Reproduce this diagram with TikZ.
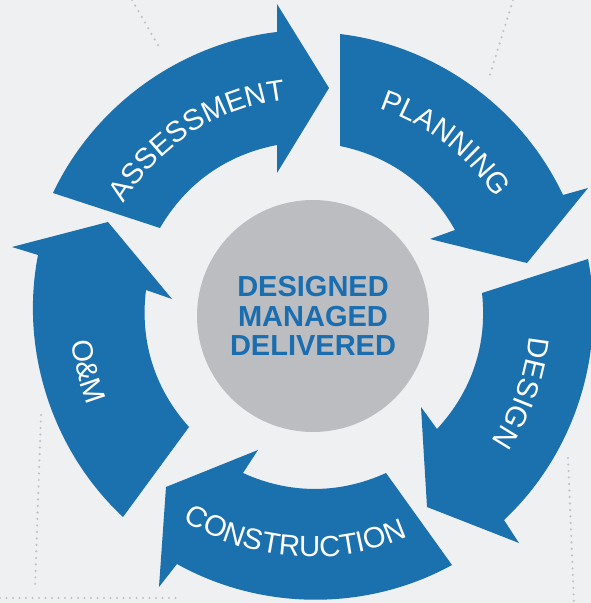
\documentclass[tikz,border=0pt]{standalone}
\usepackage{fontspec}
\setmainfont{Liberation Sans}
\usetikzlibrary{decorations.text}
\definecolor{bgc}{RGB}{239,240,242}
\definecolor{arrowblue}{RGB}{27,112,174}
\definecolor{textblue}{RGB}{26,110,176}
\definecolor{circgray}{RGB}{188,189,192}
\definecolor{dotgray}{RGB}{192,193,196}
\newcommand{\arrowlabelfont}{\fontsize{29.2}{31}\selectfont}
\begin{document}
\begin{tikzpicture}[x=1pt,y=1pt,
  cyclearrow/.style={fill=arrowblue, draw=none},
  outerbend/.style={bend left=29, looseness=0.9},
  innerbend/.style={bend right=24.5, looseness=0.92},
  dotline/.style={draw=dotgray, line width=2.4pt, line cap=round, dash pattern=on 0pt off 6.5pt},
  arclabel/.style={decorate, decoration={text along path, text align=center, text color=white, text={|\arrowlabelfont|#1}}},
]
\useasboundingbox (0,0) rectangle (591,603);
\fill[bgc] (0,0) rectangle (591,603);
\clip (0,0) rectangle (591,603);

% dotted guide lines
\coordinate (d1a) at (132,603); \coordinate (d1b) at (159,556);
\coordinate (d2a) at (513,603); \coordinate (d2b) at (489,525);
\coordinate (d3a) at (41,188);  \coordinate (d3b) at (35,15);
\coordinate (d4a) at (0,5);     \coordinate (d4b) at (178,5);
\coordinate (d5a) at (568,145); \coordinate (d5b) at (574,0);
\draw[dotline] (d1a) -- (d1b);
\draw[dotline] (d2a) -- (d2b);
\draw[dotline] (d3a) -- (d3b);
\draw[dotline] (d4a) -- (d4b);
\draw[dotline] (d5a) -- (d5b);

\coordinate (C) at (311,286);

% ASSESSMENT
\coordinate (aTo) at (53,410);  \coordinate (aNo) at (277,571);
\coordinate (aBo) at (277,599); \coordinate (aT)  at (329,515);
\coordinate (aBi) at (277,430); \coordinate (aNi) at (277,458);
\coordinate (aTi) at (160,375);
\fill[cyclearrow] (aTo) to[outerbend] (aNo) -- (aBo) -- (aT) -- (aBi) -- (aNi) to[innerbend] (aTi) -- cycle;

% PLANNING
\coordinate (pTo) at (340,569); \coordinate (pNo) at (563,408);
\coordinate (pBo) at (588,415); \coordinate (pT)  at (527,340);
\coordinate (pBi) at (430,364); \coordinate (pNi) at (455,373);
\coordinate (pTi) at (340,457);
\fill[cyclearrow] (pTo) to[outerbend] (pNo) -- (pBo) -- (pT) -- (pBi) -- (pNi) to[innerbend] (pTi) -- cycle;

% DESIGN
\coordinate (dTo) at (588,344); \coordinate (dNo) at (504,83);
\coordinate (dBo) at (519,60);  \coordinate (dT)  at (427,96);
\coordinate (dBi) at (421,196); \coordinate (dNi) at (437,174);
\coordinate (dTi) at (482,310);
\fill[cyclearrow] (dTo) to[outerbend] (dNo) -- (dBo) -- (dT) -- (dBi) -- (dNi) to[innerbend] (dTi) -- cycle;

% CONSTRUCTION
\coordinate (cTo) at (452,38);  \coordinate (cNo) at (177,39);
\coordinate (cBo) at (159,16);  \coordinate (cT)  at (166,116);
\coordinate (cBi) at (258,153); \coordinate (cNi) at (243,130);
\coordinate (cTi) at (386,130);
\fill[cyclearrow] (cTo) to[outerbend] (cNo) -- (cBo) -- (cT) -- (cBi) -- (cNi) to[innerbend] (cTi) -- cycle;

% O&M
\coordinate (oTo) at (123,86);  \coordinate (oNo) at (38,348);
\coordinate (oBo) at (12,356);  \coordinate (oT)  at (108,381);
\coordinate (oBi) at (172,304); \coordinate (oNi) at (146,313);
\coordinate (oTi) at (189,176);
\fill[cyclearrow] (oTo) to[outerbend] (oNo) -- (oBo) -- (oT) -- (oBi) -- (oNi) to[innerbend] (oTi) -- cycle;

% labels along the arrows
\path[arclabel=ASSESSMENT] (C) ++(162.7:219) arc[start angle=162.7, end angle=82.7, radius=219pt];
\path[arclabel=PLANNING] (C) ++(92.3:219) arc[start angle=92.3, end angle=12.3, radius=219pt];
\path[arclabel=DESIGN] (C) ++(20.2:219) arc[start angle=20.2, end angle=-59.8, radius=219pt];
\path[arclabel=CONSTRUCTION] (C) ++(-139.2:240) arc[start angle=-139.2, end angle=-49.2, radius=240pt];
\path[arclabel={O{\&}M}] (C) ++(163.7:240) arc[start angle=163.7, end angle=223.7, radius=240pt];

% hub
\node[circle, fill=circgray, minimum size=232pt, inner sep=0pt] (hub) at (313,287) {};
\node[text=textblue, font=\bfseries\fontsize{29}{29.5}\selectfont, align=center, inner sep=0pt] (motto) at (hub.center) {DESIGNED\\MANAGED\\DELIVERED};
\end{tikzpicture}
\end{document}
